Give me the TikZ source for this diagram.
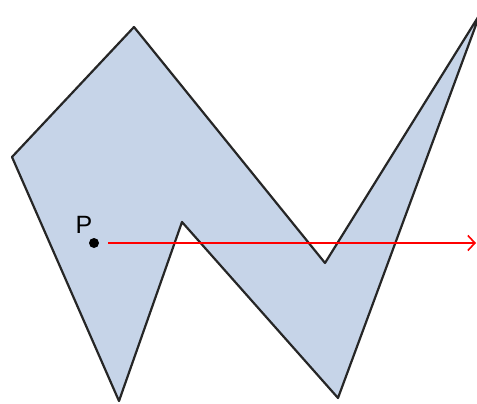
\documentclass[tikz,border=0pt]{standalone}
\usepackage{fontspec}
\setsansfont{Liberation Sans}
\usetikzlibrary{arrows.meta}
\definecolor{polyblue}{RGB}{198,212,232}

\begin{document}
\begin{tikzpicture}[x=1pt, y=-1pt, line join=round,
  poly/.style={draw=black!85, line width=2.2pt, fill=polyblue},
  pt/.style={circle, fill=black, inner sep=0pt, minimum size=10pt},
  ray/.style={draw=red, line width=2.4pt, -{Straight Barb[length=7pt, width=15pt, line width=1.6pt]}}]
\useasboundingbox (0,0) rectangle (477,404);
\clip (0,0) rectangle (477,404);
% the polygon
\draw[poly] (134,27) -- (12,157) -- (119,401) -- (182,222) -- (338,398)
  -- (480,14) -- (325,263) -- cycle;
% point and ray
\node[pt] (p) at (94,243) {};
\node[font=\sffamily\fontsize{25}{25}\selectfont, anchor=base, inner sep=0pt] (plabel) at (84,233) {P};
\coordinate (rayend) at (476,243);
\draw[ray] ([xshift=14pt]p.center) -- (rayend);
\end{tikzpicture}
\end{document}
